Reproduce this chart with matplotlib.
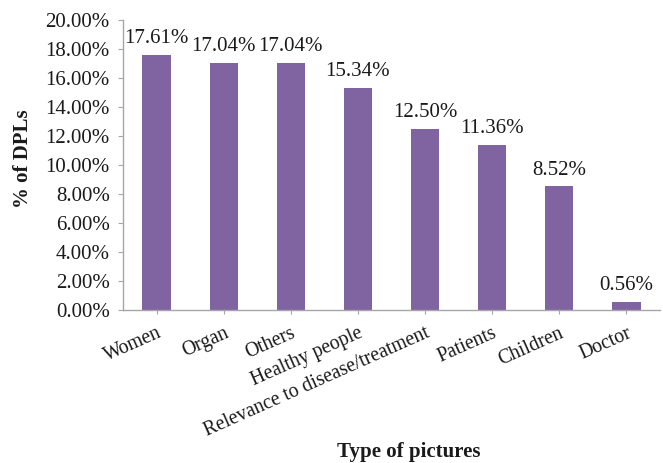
import matplotlib
matplotlib.use("Agg")
import matplotlib.pyplot as plt
from matplotlib.ticker import FuncFormatter

categories = ["Women", "Organ", "Others", "Healthy people",
              "Relevance to disease/treatment", "Patients", "Children", "Doctor"]
values = [17.61, 17.04, 17.04, 15.34, 12.50, 11.36, 8.52, 0.56]
y_ticks = [0, 2, 4, 6, 8, 10, 12, 14, 16, 18, 20]

plt.rcParams["font.family"] = ["Liberation Serif", "DejaVu Serif"]

W, H = 663, 463
fig = plt.figure(figsize=(W / 100, H / 100), dpi=100)
ax = fig.add_axes([123 / W, (H - 310) / H, (660 - 123) / W, (310 - 20) / H])

bar_color = "#8064A2"
axis_color = "#A6A6A6"
text_color = "#1a1a1a"
x = list(range(len(categories)))
ax.bar(x, values, width=0.42, color=bar_color, zorder=2)

for xi, v in zip(x, values):
    ax.annotate(f"{v:.2f}%", (xi, v), xytext=(0, 5), textcoords="offset points",
                ha="center", va="bottom", fontsize=15, color=text_color)

ax.set_xlim(-0.5, len(categories) - 0.5)
ax.set_ylim(0, 20)
ax.set_yticks(y_ticks)
ax.yaxis.set_major_formatter(FuncFormatter(lambda v, _: f"{v:.2f}%"))
ax.set_xticks(x)
ax.set_xticklabels(categories, rotation=24, ha="right", va="top",
                   rotation_mode="anchor", fontsize=14.2)

for side in ("top", "right"):
    ax.spines[side].set_visible(False)
for side in ("left", "bottom"):
    ax.spines[side].set_color(axis_color)
    ax.spines[side].set_linewidth(1.0)

ax.tick_params(axis="y", direction="out", length=3.6, color=axis_color,
               labelsize=15, pad=6, labelcolor=text_color)
ax.tick_params(axis="x", direction="out", length=3, color=axis_color,
               pad=7, labelcolor=text_color)

fig.text(23 / W, 1 - 159 / H, "% of DPLs", rotation=90, ha="center", va="center",
         fontsize=15, fontweight="bold", color=text_color)
fig.text(409 / W, 1 - 452 / H, "Type of pictures", ha="center", va="center",
         fontsize=15, fontweight="bold", color=text_color)

fig.savefig("out.png", dpi=100)
